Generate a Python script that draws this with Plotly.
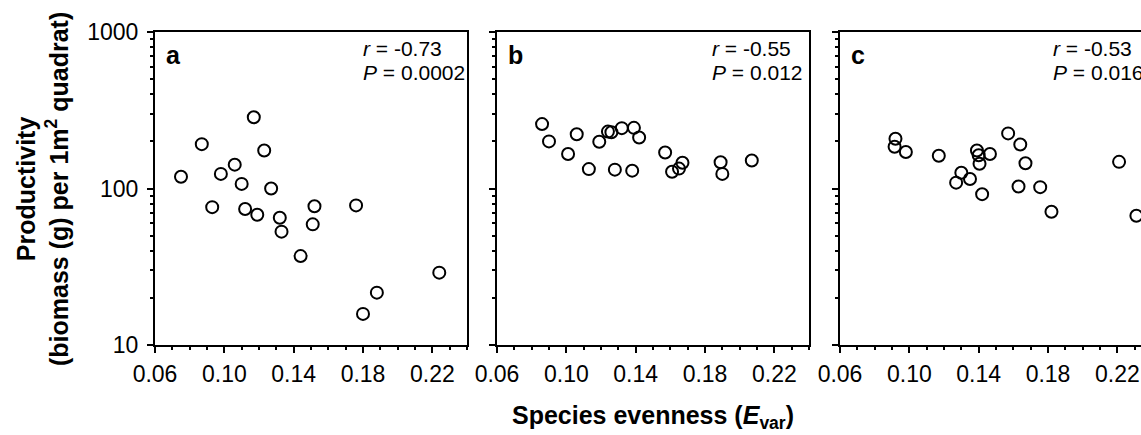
import plotly.graph_objects as go

# ---- data ----
a_x = [0.117, 0.087, 0.123, 0.106, 0.075, 0.098, 0.110, 0.127, 0.093, 0.112,
       0.119, 0.132, 0.133, 0.152, 0.151, 0.176, 0.144, 0.224, 0.188, 0.180]
a_y = [285, 192, 175, 142, 119, 124, 107, 100, 76, 74,
       68, 65, 53, 77, 59, 78, 37, 29, 21.6, 15.8]

b_x = [0.086, 0.090, 0.106, 0.101, 0.113, 0.119, 0.124, 0.126, 0.132, 0.128,
       0.139, 0.142, 0.138, 0.157, 0.161, 0.165, 0.167, 0.189, 0.190, 0.207]
b_y = [258, 200, 222, 166, 133, 199, 231, 229, 243, 132,
       244, 212, 130, 170, 128, 134, 146, 147, 124, 151]

c_x = [0.092, 0.0915, 0.098, 0.117, 0.139, 0.140, 0.1465, 0.1405, 0.157, 0.164,
       0.167, 0.130, 0.127, 0.135, 0.142, 0.163, 0.1755, 0.182, 0.221, 0.231]
c_y = [208, 185, 171, 162, 175, 163, 166, 144, 225, 191,
       145, 126, 109, 115, 92, 103, 102, 71, 148, 67]

panel_letters = ["a", "b", "c"]
r_texts = ["-0.73", "-0.55", "-0.53"]
p_texts = ["0.0002", "0.012", "0.016"]

x_tickvals = [0.06, 0.10, 0.14, 0.18, 0.22]
x_ticktext = ["0.06", "0.10", "0.14", "0.18", "0.22"]
y_tickvals = [10, 100, 1000]
y_ticktext = ["10", "100", "1000"]

# ---- layout geometry ----
W, H = 1141, 435
FONT = "Liberation Sans, Arial, Helvetica, sans-serif"

def px(v):
    return v / W

def py(v):
    return 1 - v / H

panel_left = [155, 497, 840]
stat_offset = [206, 213, 211]
panel_w = 312
top, bottom = 32, 345
x_span = 0.18  # data units per panel width

fig = go.Figure()
series = [(a_x, a_y), (b_x, b_y), (c_x, c_y)]

minor_y = [m * 10 ** e for e in (1, 2) for m in range(2, 10)]

for i, (xs, ys) in enumerate(series):
    n = "" if i == 0 else str(i + 1)
    left = panel_left[i]
    right = min(left + panel_w, W)
    xmax = 0.06 + x_span * (right - left) / panel_w
    fig.add_trace(go.Scatter(
        x=xs, y=ys, mode="markers",
        marker=dict(symbol="circle-open", size=12, color="black",
                    line=dict(width=2, color="black")),
        xaxis="x" + n, yaxis="y" + n, showlegend=False, hoverinfo="skip"))
    fig.layout["xaxis" + n] = dict(
        domain=[px(left), px(right)], anchor="y" + n, range=[0.06, xmax],
        automargin=False,
        tickmode="array", tickvals=x_tickvals, ticktext=x_ticktext,
        ticks="outside", ticklen=6, tickwidth=1.5, tickcolor="black",
        ticklabelstandoff=1,
        minor=dict(dtick=0.01, tick0=0.06, ticks="outside", ticklen=3,
                   tickwidth=1.5, tickcolor="black", showgrid=False),
        showline=True, linewidth=2, linecolor="black", mirror=True,
        showgrid=False, zeroline=False,
        tickfont=dict(family=FONT, size=23, color="black"))
    fig.layout["yaxis" + n] = dict(
        domain=[py(bottom), py(top)], anchor="x" + n, type="log", range=[1, 3],
        automargin=False,
        tickmode="array", tickvals=y_tickvals, ticktext=y_ticktext,
        showticklabels=(i == 0),
        ticks="outside", ticklen=6, tickwidth=1.5, tickcolor="black",
        ticklabelstandoff=4,
        minor=dict(tickmode="array", tickvals=minor_y, ticks="outside",
                   ticklen=3, tickwidth=1.5, tickcolor="black", showgrid=False),
        showline=True, linewidth=2, linecolor="black", mirror=(i < 2),
        showgrid=False, zeroline=False,
        tickfont=dict(family=FONT, size=23, color="black"))

    # panel letter
    fig.add_annotation(x=px(left + 18), y=py(55), xref="paper", yref="paper",
                       text="<b>" + panel_letters[i] + "</b>", showarrow=False,
                       xanchor="center", yanchor="middle",
                       font=dict(family=FONT, size=25, color="black"))
    # statistics
    sx = px(left + stat_offset[i])
    fig.add_annotation(x=sx, y=py(48), xref="paper", yref="paper",
                       text="<i>r</i> = " + r_texts[i], showarrow=False,
                       xanchor="left", yanchor="middle",
                       font=dict(family=FONT, size=21, color="black"))
    fig.add_annotation(x=sx, y=py(72), xref="paper", yref="paper",
                       text="<i>P</i> = " + p_texts[i], showarrow=False,
                       xanchor="left", yanchor="middle",
                       font=dict(family=FONT, size=21, color="black"))

# axis titles
fig.add_annotation(x=px(42), y=py(189), xref="paper", yref="paper",
                   text="<b>Productivity<br>(biomass (g) per 1m<sup>2</sup> quadrat)</b>",
                   textangle=-90, showarrow=False, xanchor="center", yanchor="middle",
                   font=dict(family=FONT, size=25, color="black"))
fig.add_annotation(x=px(653), y=py(417), xref="paper", yref="paper",
                   text="<b>Species evenness (<i>E</i><sub>var</sub>)</b>",
                   showarrow=False, xanchor="center", yanchor="middle",
                   font=dict(family=FONT, size=25, color="black"))

fig.update_layout(width=W, height=H, margin=dict(l=0, r=0, t=0, b=0),
                  paper_bgcolor="white", plot_bgcolor="white")

fig.write_html("out.html",
               config={"displayModeBar": False},
               post_script="document.body.style.margin='0';"
                           "document.body.style.overflow='hidden';")
